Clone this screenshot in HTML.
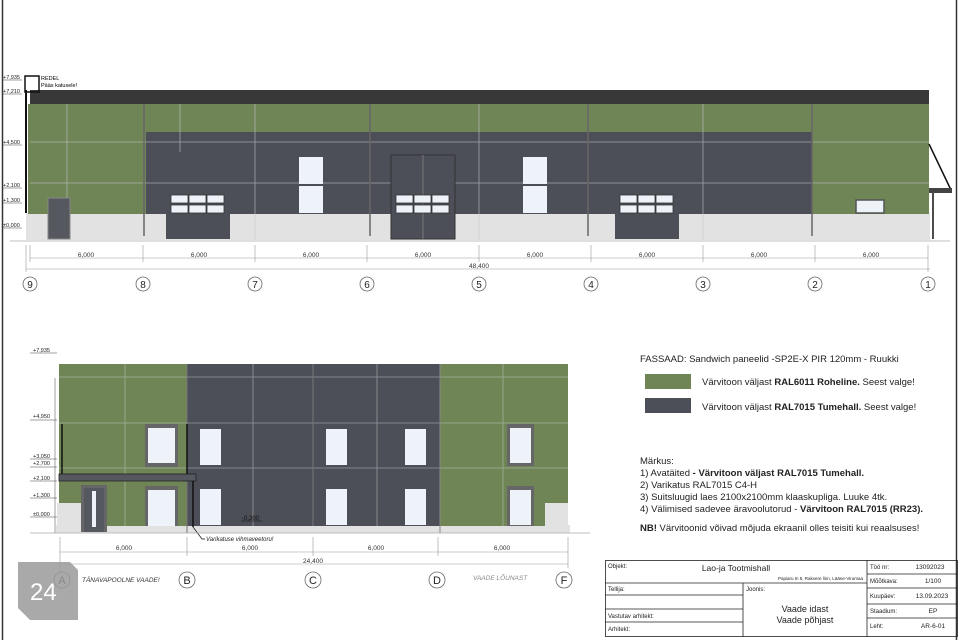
<!DOCTYPE html>
<html><head><meta charset="utf-8"><style>
html,body{margin:0;padding:0;background:#fff;}
svg{display:block;font-family:"Liberation Sans",sans-serif;}
</style></head><body>
<svg width="960" height="640" viewBox="0 0 960 640" xmlns="http://www.w3.org/2000/svg">
<rect width="960" height="640" fill="#fff"/>
<line x1="2.5" y1="0" x2="2.5" y2="640" stroke="#333" stroke-width="1.5"/>
<line x1="956.5" y1="0" x2="956.5" y2="640" stroke="#333" stroke-width="1.5"/>

<!-- TOP ELEVATION -->
<rect x="26" y="213" width="904" height="27" fill="#e2e2e2"/>
<rect x="28" y="104" width="901" height="110" fill="#6f8556"/>
<rect x="146" y="132" width="666" height="82" fill="#4c4f58"/>
<rect x="30" y="90" width="899" height="14" fill="#383838"/>
<!-- panel lines -->
<g stroke="#c8c8c8" stroke-width="0.8" opacity="0.7">
<line x1="30" y1="142" x2="929" y2="142"/>
<line x1="30" y1="183" x2="929" y2="183"/>
<line x1="67" y1="104" x2="67" y2="213"/>
<line x1="180" y1="104" x2="180" y2="152"/>
<line x1="255" y1="104" x2="255" y2="240"/>
<line x1="479" y1="104" x2="479" y2="240"/>
<line x1="703" y1="104" x2="703" y2="240"/>
</g>
<g stroke="#666" stroke-width="1.5">
<line x1="144" y1="104" x2="144" y2="236"/>
<line x1="370" y1="104" x2="370" y2="236"/>
<line x1="588" y1="104" x2="588" y2="236"/>
<line x1="812" y1="104" x2="812" y2="236"/>
</g>
<!-- doors -->
<rect x="48" y="198" width="22" height="41" fill="#55585f" stroke="#888" stroke-width="1"/>
<rect x="166" y="214" width="64" height="25" fill="#4c4f58"/>
<rect x="615" y="214" width="64" height="25" fill="#4c4f58"/>
<rect x="391" y="155" width="64" height="84" fill="#4c4f58" stroke="#333" stroke-width="1"/>
<line x1="423" y1="155" x2="423" y2="239" stroke="#777"/>
<g fill="#eef3fa" stroke="#333" stroke-width="0.8">
<rect x="171" y="195" width="17" height="8"/><rect x="189" y="195" width="17" height="8"/><rect x="207" y="195" width="17" height="8"/>
<rect x="171" y="205" width="17" height="8"/><rect x="189" y="205" width="17" height="8"/><rect x="207" y="205" width="17" height="8"/>
<rect x="396" y="195" width="17" height="8"/><rect x="414" y="195" width="17" height="8"/><rect x="432" y="195" width="17" height="8"/>
<rect x="396" y="205" width="17" height="8"/><rect x="414" y="205" width="17" height="8"/><rect x="432" y="205" width="17" height="8"/>
<rect x="620" y="195" width="17" height="8"/><rect x="638" y="195" width="17" height="8"/><rect x="656" y="195" width="17" height="8"/>
<rect x="620" y="205" width="17" height="8"/><rect x="638" y="205" width="17" height="8"/><rect x="656" y="205" width="17" height="8"/>
</g>
<g fill="#eef3fa">
<rect x="299" y="157" width="24" height="27"/><rect x="299" y="186" width="24" height="27"/>
<rect x="523" y="157" width="24" height="27"/><rect x="523" y="186" width="24" height="27"/>
</g>
<rect x="856" y="200" width="28" height="13" fill="#eef3fa" stroke="#555" stroke-width="1.5"/>
<!-- right canopy -->
<path d="M929 144 L951 190" stroke="#111" stroke-width="1.5" fill="none"/>
<rect x="929" y="188" width="23" height="5" fill="#444"/>
<line x1="933" y1="193" x2="933" y2="239" stroke="#111" stroke-width="1.5"/>
<line x1="10" y1="241" x2="950" y2="241" stroke="#aaa" stroke-width="0.8"/>
<!-- ladder -->
<rect x="25" y="76" width="14" height="16" fill="none" stroke="#111" stroke-width="1.5"/>
<line x1="26" y1="90" x2="26" y2="213" stroke="#111" stroke-width="2"/>
<text x="41" y="80" font-size="5.5">REDEL</text>
<text x="41" y="87" font-size="5.5">Pääs katusele!</text>
<!-- levels -->
<g font-size="5.5" fill="#222">
<text x="3" y="79">+7,935</text><text x="3" y="93">+7,210</text>
<text x="3" y="144">+4,500</text><text x="3" y="187">+2,100</text>
<text x="3" y="202">+1,300</text><text x="3" y="227">±0,000</text>
</g>
<g stroke="#444" stroke-width="0.5">
<line x1="3" y1="80" x2="22" y2="80"/><line x1="3" y1="94" x2="22" y2="94"/>
<line x1="3" y1="145" x2="22" y2="145"/><line x1="3" y1="188" x2="22" y2="188"/>
<line x1="3" y1="203" x2="22" y2="203"/><line x1="3" y1="228" x2="22" y2="228"/>
</g>
<!-- dims -->
<g stroke="#999" stroke-width="0.6">
<line x1="30" y1="258" x2="928" y2="258"/>
<line x1="26" y1="269" x2="930" y2="269"/>
<line x1="26" y1="245" x2="26" y2="272"/>
<line x1="30" y1="245" x2="30" y2="262"/><line x1="143" y1="245" x2="143" y2="262"/><line x1="255" y1="245" x2="255" y2="262"/><line x1="367" y1="245" x2="367" y2="262"/><line x1="479" y1="245" x2="479" y2="262"/><line x1="591" y1="245" x2="591" y2="262"/><line x1="703" y1="245" x2="703" y2="262"/><line x1="815" y1="245" x2="815" y2="262"/><line x1="928" y1="245" x2="928" y2="272"/>
</g>
<g font-size="6.5" fill="#333" text-anchor="middle">
<text x="86" y="257">6,000</text><text x="199" y="257">6,000</text><text x="311" y="257">6,000</text><text x="423" y="257">6,000</text><text x="535" y="257">6,000</text><text x="647" y="257">6,000</text><text x="759" y="257">6,000</text><text x="871" y="257">6,000</text>
<text x="479" y="268">48,400</text>
</g>
<g fill="#fff" stroke="#666" stroke-width="0.8">
<circle cx="30" cy="284" r="7"/><circle cx="143" cy="284" r="7"/><circle cx="255" cy="284" r="7"/><circle cx="367" cy="284" r="7"/><circle cx="479" cy="284" r="7"/><circle cx="591" cy="284" r="7"/><circle cx="703" cy="284" r="7"/><circle cx="815" cy="284" r="7"/><circle cx="928" cy="284" r="7"/>
</g>
<g font-size="10" fill="#222" text-anchor="middle">
<text x="30" y="288">9</text><text x="143" y="288">8</text><text x="255" y="288">7</text><text x="367" y="288">6</text><text x="479" y="288">5</text><text x="591" y="288">4</text><text x="703" y="288">3</text><text x="815" y="288">2</text><text x="928" y="288">1</text>
</g>

<!-- BOTTOM ELEVATION -->
<rect x="56" y="525" width="514" height="8" fill="#e2e2e2"/>
<rect x="59" y="364" width="128" height="162" fill="#6f8556"/>
<rect x="187" y="364" width="253" height="162" fill="#4c4f58"/>
<rect x="440" y="364" width="128" height="162" fill="#6f8556"/>
<g stroke="#c8c8c8" stroke-width="0.8" opacity="0.6">
<line x1="59" y1="377" x2="568" y2="377"/><line x1="59" y1="423" x2="568" y2="423"/><line x1="59" y1="468" x2="568" y2="468"/>
<line x1="125" y1="364" x2="125" y2="526"/><line x1="253" y1="364" x2="253" y2="526"/><line x1="377" y1="364" x2="377" y2="526"/><line x1="503" y1="364" x2="503" y2="526"/>
</g>
<line x1="313" y1="364" x2="313" y2="526" stroke="#777"/>
<line x1="187" y1="364" x2="187" y2="533" stroke="#777"/>
<line x1="440" y1="364" x2="440" y2="533" stroke="#888"/>
<rect x="545" y="503" width="23" height="30" fill="#e2e2e2"/>
<g fill="#666">
<rect x="145" y="424" width="33" height="43"/><rect x="145" y="486" width="33" height="40"/>
<rect x="507" y="424" width="27" height="42"/><rect x="507" y="486" width="27" height="40"/>
</g>
<g fill="#eef3fa">
<rect x="148" y="428" width="27" height="35"/><rect x="148" y="490" width="27" height="36"/>
<rect x="200" y="429" width="21" height="36"/><rect x="200" y="489" width="21" height="36"/>
<rect x="326" y="429" width="21" height="36"/><rect x="326" y="489" width="21" height="36"/>
<rect x="405" y="429" width="21" height="36"/><rect x="405" y="489" width="21" height="36"/>
<rect x="510" y="428" width="21" height="35"/><rect x="510" y="490" width="21" height="35"/>
</g>
<rect x="57" y="503" width="26" height="30" fill="#e2e2e2"/>
<rect x="81" y="485" width="26" height="47" fill="#666"/>
<rect x="84" y="488" width="20" height="44" fill="#55585f"/>
<rect x="92" y="491" width="4" height="36" fill="#eef3fa"/>
<rect x="59" y="474" width="137" height="7" fill="#55585f" stroke="#222" stroke-width="0.8"/>
<line x1="62" y1="424" x2="62" y2="474" stroke="#111" stroke-width="1.5"/>
<line x1="187" y1="424" x2="187" y2="474" stroke="#111" stroke-width="1.5"/>
<line x1="193" y1="481" x2="193" y2="527" stroke="#111" stroke-width="1.5"/>
<path d="M193 527 L202 539 L205 539" stroke="#111" fill="none" stroke-width="0.7"/>
<text x="206" y="541" font-size="6" font-style="italic" fill="#222">Varikatuse vihmaveetoru!</text>
<text x="242" y="520" font-size="6" fill="#111">-0,200</text>
<line x1="241" y1="521" x2="262" y2="521" stroke="#111" stroke-width="0.5"/>
<line x1="30" y1="533" x2="590" y2="533" stroke="#aaa" stroke-width="0.8"/>
<line x1="55" y1="378" x2="55" y2="533" stroke="#888" stroke-width="0.8"/>
<g font-size="5.5" fill="#222">
<text x="33" y="352">+7,935</text><text x="33" y="418">+4,950</text>
<text x="33" y="458">+3,050</text><text x="33" y="465">+2,700</text>
<text x="33" y="480">+2,100</text><text x="33" y="497">+1,300</text><text x="33" y="516">±0,000</text>
</g>
<g stroke="#444" stroke-width="0.5">
<line x1="30" y1="353" x2="57" y2="353"/><line x1="30" y1="420" x2="57" y2="420"/>
<line x1="30" y1="459" x2="57" y2="459"/><line x1="30" y1="467" x2="57" y2="467"/>
<line x1="30" y1="481" x2="57" y2="481"/><line x1="30" y1="498" x2="57" y2="498"/><line x1="30" y1="517" x2="57" y2="517"/>
</g>
<g stroke="#999" stroke-width="0.6">
<line x1="60" y1="552" x2="568" y2="552"/><line x1="60" y1="564" x2="568" y2="564"/>
<line x1="60" y1="537" x2="60" y2="575"/><line x1="187" y1="537" x2="187" y2="556"/><line x1="313" y1="537" x2="313" y2="556"/><line x1="438" y1="537" x2="438" y2="556"/><line x1="568" y1="537" x2="568" y2="568"/>
</g>
<g font-size="6.5" fill="#333" text-anchor="middle">
<text x="124" y="550">6,000</text><text x="250" y="550">6,000</text><text x="376" y="550">6,000</text><text x="502" y="550">6,000</text>
<text x="313" y="563">24,400</text>
</g>
<g fill="#fff" stroke="#666" stroke-width="0.8">
<circle cx="62" cy="580" r="8"/><circle cx="187" cy="580" r="8"/><circle cx="313" cy="580" r="8"/><circle cx="437" cy="580" r="8"/><circle cx="564" cy="580" r="8"/>
</g>
<g font-size="11" fill="#222" text-anchor="middle">
<text x="62" y="584">A</text><text x="187" y="584">B</text><text x="313" y="584">C</text><text x="437" y="584">D</text><text x="564" y="584">F</text>
</g>
<text x="82" y="582" font-size="6.5" font-style="italic" fill="#333">TÄNAVAPOOLNE VAADE!</text>
<text x="473" y="580" font-size="6.5" font-style="italic" fill="#888">VAADE LÕUNAST</text>
<!-- badge -->
<path d="M18 562 L70 562 L78 570 L78 620 L30 620 L18 608 Z" fill="#9a9a9a" opacity="0.85"/>
<text x="30" y="600" font-size="24" fill="#fff">24</text>

<!-- legend -->
<text x="640" y="362" font-size="9.5" fill="#222">FASSAAD: Sandwich paneelid -SP2E-X PIR 120mm - Ruukki</text>
<rect x="645" y="374" width="46" height="15" fill="#6f8556"/>
<rect x="645" y="398" width="46" height="15" fill="#4c4f58"/>
<text x="702" y="385" font-size="9.5" fill="#222">Värvitoon väljast <tspan font-weight="bold">RAL6011 Roheline.</tspan> Seest valge!</text>
<text x="702" y="410" font-size="9.5" fill="#222">Värvitoon väljast <tspan font-weight="bold">RAL7015 Tumehall.</tspan> Seest valge!</text>
<g font-size="9.5" fill="#222">
<text x="640" y="464">Märkus:</text>
<text x="640" y="476">1) Avatäited <tspan font-weight="bold">- Värvitoon väljast RAL7015 Tumehall.</tspan></text>
<text x="640" y="488">2) Varikatus RAL7015 C4-H</text>
<text x="640" y="500">3) Suitsluugid laes 2100x2100mm klaaskupliga. Luuke 4tk.</text>
<text x="640" y="512">4) Välimised sadevee äravoolutorud - <tspan font-weight="bold">Värvitoon RAL7015 (RR23).</tspan></text>
<text x="640" y="531"><tspan font-weight="bold">NB!</tspan> Värvitoonid võivad mõjuda ekraanil olles teisiti kui reaalsuses!</text>
</g>

<!-- title block -->
<g fill="none" stroke="#222" stroke-width="0.8">
<rect x="605.5" y="560.5" width="352" height="76"/>
<line x1="867" y1="560" x2="867" y2="637"/>
<line x1="605" y1="583" x2="867" y2="583"/>
<line x1="605" y1="595" x2="743" y2="595"/>
<line x1="605" y1="609" x2="743" y2="609"/>
<line x1="605" y1="622" x2="743" y2="622"/>
<line x1="743" y1="583" x2="743" y2="637"/>
<line x1="867" y1="574" x2="958" y2="574"/>
<line x1="867" y1="588" x2="958" y2="588"/>
<line x1="867" y1="604" x2="958" y2="604"/>
<line x1="867" y1="618" x2="958" y2="618"/>
</g>
<g font-size="6" fill="#222">
<text x="608" y="568">Objekt:</text>
<text x="608" y="591">Tellija:</text>
<text x="608" y="618">Vastutav arhitekt:</text>
<text x="608" y="631">Arhitekt:</text>
<text x="746" y="591">Joonis:</text>
<text x="863" y="580" font-size="4.5" text-anchor="end">Papiaru tn 5, Rakvere linn, Lääne-Virumaa</text>
<text x="870" y="569">Töö nr:</text><text x="870" y="583">Mõõtkava:</text><text x="870" y="598">Kuupäev:</text><text x="870" y="613">Staadium:</text><text x="870" y="628">Leht:</text>
</g>
<g font-size="6.5" fill="#222" text-anchor="middle">
<text x="930" y="569">13092023</text><text x="933" y="583">1/100</text><text x="932" y="598">13.09.2023</text><text x="933" y="613">EP</text><text x="933" y="628">AR-6-01</text>
</g>
<text x="736" y="571" font-size="8.5" fill="#222" text-anchor="middle">Lao-ja Tootmishall</text>
<text x="805" y="612" font-size="9" fill="#222" text-anchor="middle">Vaade idast</text>
<text x="805" y="623" font-size="9" fill="#222" text-anchor="middle">Vaade põhjast</text>
</svg>
</body></html>
